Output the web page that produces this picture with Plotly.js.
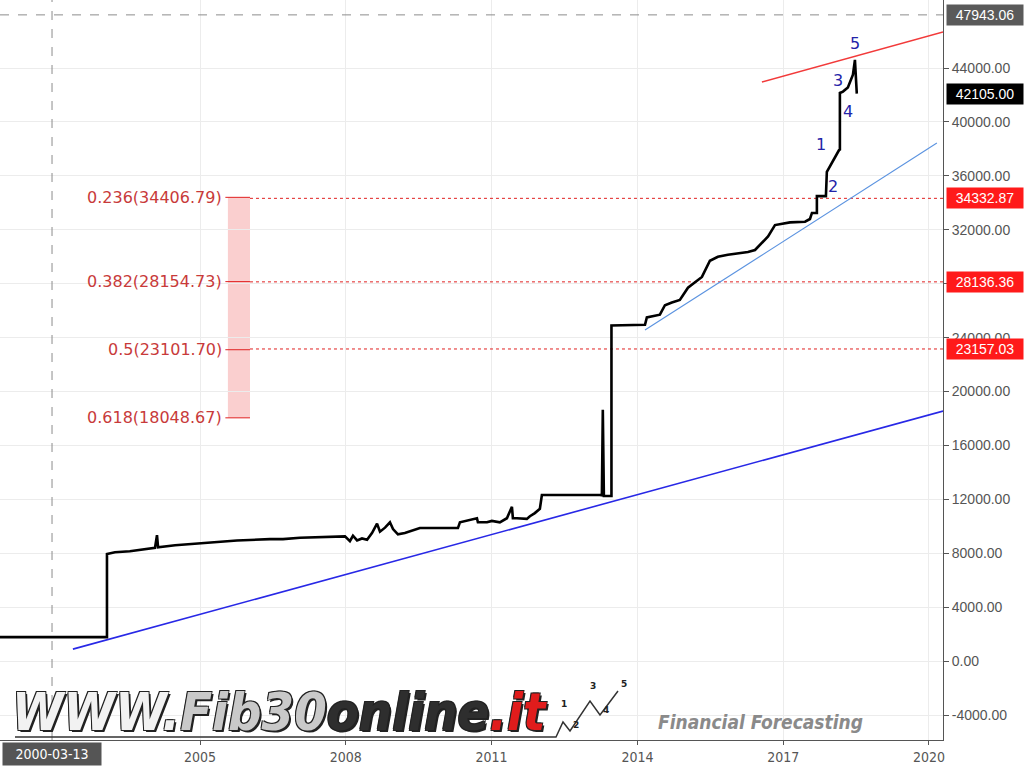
<!DOCTYPE html>
<html>
<head>
<meta charset="utf-8">
<script src="https://cdn.plot.ly/plotly-3.0.1.min.js"></script>
<style>html,body{margin:0;padding:0;background:#fff;}#chart{width:1024px;height:766px;}</style>
</head>
<body>
<div id="chart"></div>
<script>
// ---------- DATA ----------
const priceDates = [
 '2000-11-19','2003-02-01','2003-02-01','2003-04-02','2003-07-23','2003-10-06','2004-01-28','2004-02-12','2004-02-20','2004-06-27',
 '2005-01-01','2005-04-23','2005-10-05','2006-06-10','2006-09-16','2007-01-22','2007-09-04','2007-12-26','2008-02-01','2008-02-24',
 '2008-03-26','2008-05-02','2008-06-09','2008-07-16','2008-08-23','2008-09-14','2008-10-22','2008-11-28','2008-12-21','2009-01-27',
 '2009-03-20','2009-05-12','2009-07-11','2010-04-23','2010-05-08','2010-09-13','2010-09-20','2010-11-27','2011-01-03','2011-03-04',
 '2011-04-26','2011-06-03','2011-06-10','2011-07-10','2011-09-23','2011-10-16','2011-11-22','2011-12-30','2012-01-14','2013-03-25',
 '2013-04-09','2013-04-16','2013-04-24','2013-06-20','2013-06-20','2014-02-27','2014-03-13','2014-06-19','2014-07-27','2014-09-17',
 '2014-11-16','2015-01-16','2015-03-08','2015-05-01','2015-06-30','2015-08-29','2015-11-12','2016-01-26','2016-04-11','2016-06-03',
 '2016-07-25','2016-09-09','2016-10-31','2017-02-21','2017-06-14','2017-07-21','2017-08-05','2017-09-11','2017-09-11','2017-11-18',
 '2017-11-25','2018-01-02','2018-02-16','2018-02-24','2018-03-03','2018-03-03','2018-03-26','2018-05-02','2018-06-09','2018-06-24',
 '2018-07-08'
];
const priceValues = [
 1780,1780,7950,8080,8150,8250,8400,9350,8450,8600,
 8750,8800,8950,9050,9050,9150,9200,9250,8900,9300,
 8950,9100,9000,9500,10200,9600,9900,10300,9800,9400,
 9500,9700,9870,9870,10300,10600,10300,10300,10400,10300,
 10600,11450,10600,10600,10550,10750,10980,11300,12320,12320,
 12300,18650,12250,12250,24900,24950,25500,25700,26400,26600,
 26800,27700,28100,28500,29700,30000,30150,30250,30350,30500,
 31000,31500,32350,32550,32600,32800,33250,33250,34500,34500,
 36300,37000,37750,37900,37950,42150,42250,42550,43500,44600,
 42105
];

const supportDates = ['2002-05-21','2020-04-16'];
const supportValues = [890, 18550];
const channelDates = ['2014-02-27','2020-03-01'];
const channelValues = [24560, 38440];
const resistDates = ['2016-07-25','2020-04-16'];
const resistValues = [42960, 46670];

const fibRatios = ['0.236','0.382','0.5','0.618'];
const fibLabelValues = [34406.79, 28154.73, 23101.70, 18048.67];
const fibLineValues = [34332.87, 28136.36, 23157.03];
const fibStart = '2005-07-10';
const fibBoxStart = '2005-07-29';
const fibBoxEnd = '2006-01-11';
const fibLineEnd = '2020-04-16';

const waveLabels = ['1','2','3','4','5'];
const waveDates = ['2017-10-11','2018-01-12','2018-02-16','2018-05-02','2018-06-24'];
const waveValues = [38290, 35240, 43110, 40810, 45857];

const crossDate = '2001-12-15';
const crossValue = 47943.06;
const crossDateLabel = '2000-03-13';
const lastValue = 42105.00;

const xTickVals = ['2005-01-01','2008-01-01','2011-01-01','2014-01-01','2017-01-01','2020-01-01'];
const xTickText = ['2005','2008','2011','2014','2017','2020'];
const yTickVals = [-4000,0,4000,8000,12000,16000,20000,24000,28000,32000,36000,40000,44000];
const yTickText = ['-4000.00','0.00','4000.00','8000.00','12000.00','16000.00','20000.00','24000.00','','32000.00','36000.00','40000.00','44000.00'];

// ---------- TRACES ----------
const traces = [];
fibLineValues.forEach(v => traces.push({
  x:[fibBoxEnd, fibLineEnd], y:[v, v], mode:'lines', hoverinfo:'skip',
  line:{color:'#e02020', width:1, dash:'dot'}
}));
fibLabelValues.forEach(v => traces.push({
  x:[fibStart, fibBoxEnd], y:[v, v], mode:'lines', hoverinfo:'skip',
  line:{color:'#e02020', width:1}
}));
traces.push({x:supportDates, y:supportValues, mode:'lines', line:{color:'#2828e6', width:1.6}});
traces.push({x:channelDates, y:channelValues, mode:'lines', line:{color:'#5b93e0', width:1.1}});
traces.push({x:resistDates, y:resistValues, mode:'lines', line:{color:'#f23a3a', width:1.6}});
traces.push({x:priceDates, y:priceValues, mode:'lines', line:{color:'#000', width:2.6}});

// ---------- HELPERS (paper coords for decorations) ----------
const PW = 943, PH = 740;
const px = x => x / PW;
const py = y => 1 - y / PH;

// ---------- ANNOTATIONS ----------
const ann = [];
fibRatios.forEach((r, i) => ann.push({
  x: fibStart, y: fibLabelValues[i], xref:'x', yref:'y', xanchor:'right', yanchor:'middle',
  text: r + '(' + fibLabelValues[i].toFixed(2) + ')', showarrow:false, xshift:-1,
  font:{family:'DejaVu Sans, Verdana, sans-serif', size:16, color:'#c83a3a'}
}));
waveLabels.forEach((t, i) => ann.push({
  x: waveDates[i], y: waveValues[i], xref:'x', yref:'y', text:t, showarrow:false,
  font:{family:'DejaVu Sans, Verdana, sans-serif', size:16, color:'#2323a8'}
}));
function boxLabel(val, bg) {
  return {x:1, xref:'paper', y:val, yref:'y', xanchor:'left', yanchor:'middle', xshift:3,
    text: val.toFixed(2), showarrow:false, bgcolor:bg, width:74, height:18, align:'center',
    font:{family:'Liberation Sans, Arial, sans-serif', size:14, color:'#fff'}};
}
ann.push(boxLabel(crossValue, '#5a5a5a'));
ann.push(boxLabel(lastValue, '#000'));
fibLineValues.forEach(v => ann.push(boxLabel(v, '#ff1a1a')));
ann.push({x:crossDate, xref:'x', y:0, yref:'paper', yanchor:'top', yshift:-2, text:crossDateLabel,
  showarrow:false, bgcolor:'#555', width:96, height:20,
  font:{family:'DejaVu Sans Condensed, sans-serif', size:14, color:'#fff'}});

// logo
ann.push({x:px(10), y:py(712), xref:'paper', yref:'paper', xanchor:'left', yanchor:'middle', showarrow:false,
  text:"<span style='color:#f2f2f2'>WWW.</span><span style='color:#c9c9c9'>Fib30</span><span style='color:#2e2e2e'>online</span><span style='color:#e01c1c'>.it</span>",
  font:{family:'DejaVu Sans Condensed, sans-serif', size:52, weight:700, style:'italic',
    shadow:'-1px -1px 0 #222, 1px -1px 0 #222, -1px 1px 0 #222, 2px 2px 0 #222'}});
ann.push({x:px(760), y:py(722), xref:'paper', yref:'paper', xanchor:'center', yanchor:'middle', showarrow:false,
  text:'Financial Forecasting',
  font:{family:'DejaVu Sans Condensed, sans-serif', size:19, weight:700, style:'italic', color:'#8a8a8a'}});
[['1',564,711],['2',576,732],['3',593,693],['4',606,717],['5',624,691]].forEach(d => ann.push({
  x:px(d[1]), y:py(d[2]), xref:'paper', yref:'paper', showarrow:false, text:d[0],
  font:{family:'DejaVu Sans', size:9, weight:700, color:'#222'}}));

// ---------- SHAPES ----------
const shapes = [
  {type:'rect', xref:'x', yref:'y', x0:fibBoxStart, x1:fibBoxEnd, y0:fibLabelValues[3], y1:fibLabelValues[0],
   fillcolor:'rgba(240,110,110,0.33)', line:{width:0}, layer:'below'},
  {type:'line', xref:'paper', yref:'y', x0:0, x1:1, y0:crossValue, y1:crossValue, line:{color:'#8c8c8c', width:1, dash:'dash'}},
  {type:'line', xref:'x', yref:'paper', x0:crossDate, x1:crossDate, y0:0, y1:1, line:{color:'#8c8c8c', width:1, dash:'dash'}},
  {type:'path', xref:'paper', yref:'paper',
   path:'M'+px(15)+','+py(737)+' L'+px(556)+','+py(737)+' L'+px(563)+','+py(722)+' L'+px(570)+','+py(731)+' L'+px(590)+','+py(701)+' L'+px(600)+','+py(715)+' L'+px(618)+','+py(691),
   line:{color:'#333', width:1.5}}
];

const layout = {
  width:1024, height:766, margin:{l:0, r:81, t:0, b:26},
  paper_bgcolor:'#fff', plot_bgcolor:'#fff', showlegend:false, hovermode:false,
  xaxis:{type:'date', range:['2000-11-19','2020-04-16'], tickvals:xTickVals, ticktext:xTickText,
    showgrid:true, gridcolor:'#ececec', zeroline:false, showline:true, linecolor:'#555', linewidth:1,
    ticks:'outside', ticklen:4, tickcolor:'#555',
    tickfont:{family:'DejaVu Sans Condensed, sans-serif', size:14, color:'#555'}},
  yaxis:{side:'right', range:[-5853, 49047], tickvals:yTickVals, ticktext:yTickText,
    showgrid:true, gridcolor:'#ececec', zeroline:false, showline:true, linecolor:'#555', linewidth:1,
    ticks:'outside', ticklen:5, tickcolor:'#555',
    tickfont:{family:'Liberation Sans, Arial, sans-serif', size:14, color:'#555'}},
  annotations:ann, shapes:shapes
};

Plotly.newPlot('chart', traces, layout, {displayModeBar:false, staticPlot:true});
</script>
</body>
</html>
